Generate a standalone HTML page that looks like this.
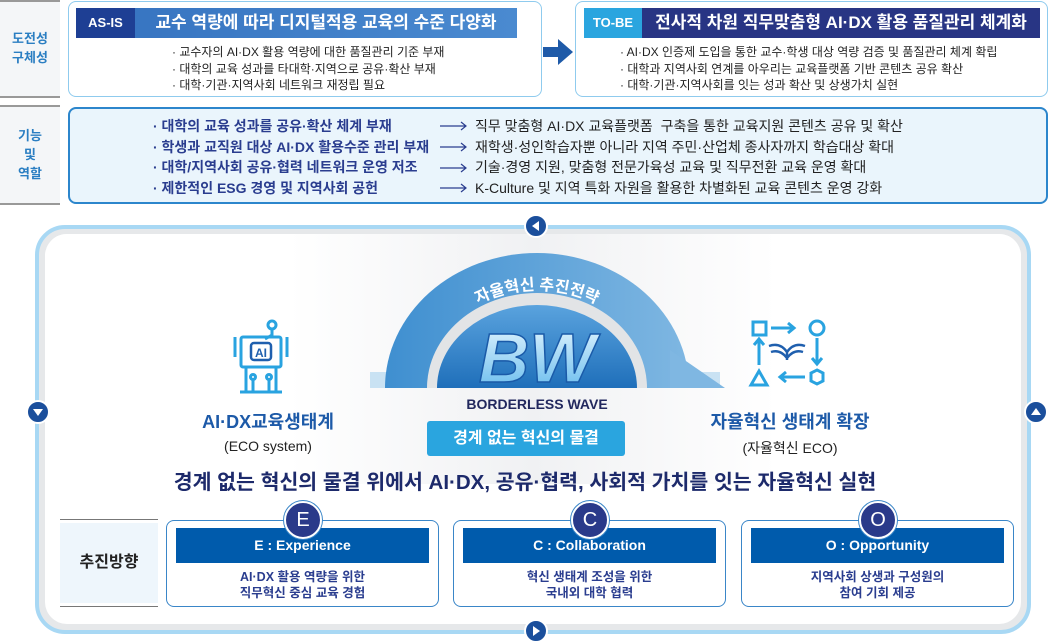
<!DOCTYPE html>
<html><head><meta charset="utf-8"><style>
*{margin:0;padding:0;box-sizing:border-box}
body{width:1050px;height:643px;background:#fff;position:relative;overflow:hidden;font-family:"Liberation Sans","Noto Sans CJK KR",sans-serif}
.a{position:absolute}
.c{text-align:center}
.lbl{color:#2a7ec2;font-weight:bold;font-size:13px;line-height:19px;text-align:center}
.bul{font-size:12px;color:#222;line-height:16.5px;white-space:nowrap}
.r2{font-size:14px;line-height:20.7px;white-space:nowrap}
</style></head><body>
<!-- left label column -->
<div class="a" style="left:0;top:0;width:60px;height:2px;background:#999"></div>
<div class="a" style="left:0;top:96px;width:60px;height:2px;background:#999"></div>
<div class="a" style="left:0;top:105px;width:60px;height:2px;background:#999"></div>
<div class="a" style="left:0;top:203px;width:60px;height:2px;background:#999"></div>
<div class="a" style="left:0;top:2px;width:60px;height:94px;background:#f4f6f8"></div>
<div class="a" style="left:0;top:107px;width:60px;height:96px;background:#f4f6f8"></div>
<div class="a lbl" style="left:0;top:29px;width:60px">도전성<br>구체성</div>
<div class="a lbl" style="left:0;top:126px;width:60px">기능<br>및<br>역할</div>

<!-- AS-IS -->
<div class="a" style="left:68px;top:1px;width:474px;height:96px;border:1.5px solid #8fcbee;border-radius:8px"></div>
<div class="a" style="left:76px;top:8px;width:441px;height:30px;background:linear-gradient(90deg,#3572bf,#4a8ad0)"></div>
<div class="a c" style="left:76px;top:8px;width:59px;height:30px;background:#1e3f94;color:#fff;font-weight:bold;font-size:13px;line-height:30px">AS-IS</div>
<div class="a c" style="left:135px;top:8px;width:382px;color:#fff;font-weight:bold;font-size:17px;line-height:30px">교수 역량에 따라 디지털적용 교육의 수준 다양화</div>
<div class="a bul" style="left:172px;top:44px">· 교수자의 AI·DX 활용 역량에 대한 품질관리 기준 부재<br>· 대학의 교육 성과를 타대학·지역으로 공유·확산 부재<br>· 대학·기관·지역사회 네트워크 재정립 필요</div>

<!-- arrow -->
<svg class="a" style="left:543px;top:38px" width="32" height="28"><rect x="0" y="9" width="16" height="10" fill="#1e5aa8"/><polygon points="15,1 30,14 15,27" fill="#1e5aa8"/></svg>

<!-- TO-BE -->
<div class="a" style="left:575px;top:1px;width:473px;height:96px;border:1.5px solid #8fcbee;border-radius:8px"></div>
<div class="a" style="left:584px;top:8px;width:456px;height:30px;background:#283584"></div>
<div class="a c" style="left:584px;top:8px;width:58px;height:30px;background:#2aa5df;color:#fff;font-weight:bold;font-size:13px;line-height:30px">TO-BE</div>
<div class="a c" style="left:642px;top:8px;width:398px;color:#fff;font-weight:bold;font-size:17px;line-height:30px">전사적 차원 직무맞춤형 AI·DX 활용 품질관리 체계화</div>
<div class="a bul" style="left:620px;top:44px">· AI·DX 인증제 도입을 통한 교수·학생 대상 역량 검증 및 품질관리 체계 확립<br>· 대학과 지역사회 연계를 아우리는 교육플랫폼 기반 콘텐츠 공유 확산<br>· 대학·기관·지역사회를 잇는 성과 확산 및 상생가치 실현</div>

<!-- row 2 -->
<div class="a" style="left:68px;top:107px;width:980px;height:97px;border:2px solid #2c86cc;border-radius:8px;background:#eaf5fc"></div>
<div class="a r2" style="left:153px;top:116px;color:#2a3d8f;font-weight:bold">· 대학의 교육 성과를 공유·확산 체계 부재<br>· 학생과 교직원 대상 AI·DX 활용수준 관리 부재<br>· 대학/지역사회 공유·협력 네트워크 운영 저조<br>· 제한적인 ESG 경영 및 지역사회 공헌</div>
<svg class="a" style="left:438px;top:116px" width="32" height="84">
<g stroke="#2a3d8f" stroke-width="1.2" fill="none">
<path d="M2,10H28M23,6L28,10L23,14"/><path d="M2,31H28M23,27L28,31L23,35"/><path d="M2,52H28M23,48L28,52L23,56"/><path d="M2,72H28M23,68L28,72L23,76"/></g></svg>
<div class="a r2" style="left:475px;top:116px;color:#222">직무 맞춤형 AI·DX 교육플랫폼 &nbsp;구축을 통한 교육지원 콘텐츠 공유 및 확산<br>재학생·성인학습자뿐 아니라 지역 주민·산업체 종사자까지 학습대상 확대<br>기술·경영 지원, 맞춤형 전문가육성 교육 및 직무전환 교육 운영 확대<br>K-Culture 및 지역 특화 자원을 활용한 차별화된 교육 콘텐츠 운영 강화</div>

<!-- big panel -->
<div class="a" style="left:35px;top:225px;width:996px;height:409px;border:4px solid #a8d8f4;border-radius:30px;background:#e6e8ea"></div>
<div class="a" style="left:45px;top:234px;width:976px;height:390px;border-radius:22px;background:#fff"></div>
<div class="a" style="left:45px;top:234px;width:976px;height:250px;border-radius:22px 22px 0 0;background:linear-gradient(90deg,#fff 25%,#f0f1f3 50%,#fff 75%)"></div>

<!-- nav dots -->
<svg class="a" style="left:524px;top:214px" width="24" height="24"><circle cx="12" cy="12" r="11" fill="#1b4f9c" stroke="#fff" stroke-width="2"/><polygon points="15,7 15,17 8,12" fill="#fff"/></svg>
<svg class="a" style="left:26px;top:400px" width="24" height="24"><circle cx="12" cy="12" r="11" fill="#1b4f9c" stroke="#fff" stroke-width="2"/><polygon points="7,9 17,9 12,16" fill="#fff"/></svg>
<svg class="a" style="left:1024px;top:400px" width="24" height="24"><circle cx="12" cy="12" r="11" fill="#1b4f9c" stroke="#fff" stroke-width="2"/><polygon points="7,15 17,15 12,8" fill="#fff"/></svg>
<svg class="a" style="left:524px;top:619px" width="24" height="24"><circle cx="12" cy="12" r="11" fill="#1b4f9c" stroke="#fff" stroke-width="2"/><polygon points="9,7 9,17 16,12" fill="#fff"/></svg>

<!-- arc -->
<svg class="a" style="left:370px;top:240px" width="370" height="160">
<defs>
<linearGradient id="g1" x1="0" x2="1"><stop offset="0" stop-color="#3f8fd0"/><stop offset="1" stop-color="#7fb7e2"/></linearGradient>
<linearGradient id="g2" x1="0" y1="0" x2="0" y2="1"><stop offset="0" stop-color="#5aa3de"/><stop offset="1" stop-color="#1f6fba"/></linearGradient>
<linearGradient id="g3" x1="0" y1="0" x2="0" y2="1"><stop offset="0" stop-color="#e8f7ff"/><stop offset="1" stop-color="#5fb8ec"/></linearGradient>
<path id="tp" d="M52,148 A115,98 0 0 1 282,148" fill="none"/>
</defs>
<rect x="0" y="132" width="350" height="16" fill="#c9e2f3"/>
<path d="M15,148 A152,135 0 0 1 319,148 Z" fill="url(#g1)"/>
<polygon points="300,110 300,148 355,148" fill="#7fb7e2"/>
<path d="M57,148 A110,95 0 0 1 277,148 Z" fill="#e2e4e6"/>
<path d="M67,148 A100,83 0 0 1 267,148 Z" fill="url(#g2)"/>
<text font-family="Liberation Sans,Noto Sans CJK KR,sans-serif" font-size="16" font-weight="bold" fill="#fff"><textPath href="#tp" startOffset="50%" text-anchor="middle">자율혁신 추진전략</textPath></text>
<text x="167" y="142" text-anchor="middle" font-family="Liberation Sans,sans-serif" font-size="70" font-weight="bold" font-style="italic" fill="url(#g3)" stroke="#1a5aa8" stroke-width="1.5">BW</text>
</svg>
<div class="a c" style="left:437px;top:396px;width:200px;color:#22285e;font-weight:bold;font-size:14px">BORDERLESS WAVE</div>
<div class="a c" style="left:427px;top:421px;width:198px;height:35px;background:#2aa5df;border-radius:3px;color:#fff;font-weight:bold;font-size:16px;line-height:35px">경계 없는 혁신의 물결</div>

<!-- AI icon -->
<svg class="a" style="left:225px;top:315px" width="80" height="80" fill="none" stroke="#29a3e0" stroke-width="3">
<circle cx="47" cy="10" r="4"/><path d="M47,14 V20 L40,24"/>
<rect x="16" y="22" width="40" height="30" rx="2"/><path d="M10,22V42M62,22V42"/>
<rect x="26" y="28" width="20" height="17" rx="3" stroke="#1f5fae" stroke-width="2.5"/>
<text x="36" y="42" text-anchor="middle" font-family="Liberation Sans" font-size="12" font-weight="bold" fill="#1f5fae" stroke="none">AI</text>
<path d="M21,52V77M51,52V77M15,77H57"/><circle cx="28" cy="62" r="2.5"/><circle cx="44" cy="62" r="2.5"/><path d="M28,65V77M44,65V77"/>
</svg>
<div class="a c" style="left:168px;top:408px;width:200px;color:#1d5aa8;font-weight:bold;font-size:18px">AI·DX교육생태계</div>
<div class="a c" style="left:168px;top:438px;width:200px;color:#222;font-size:14px">(ECO system)</div>

<!-- right icon -->
<svg class="a" style="left:745px;top:318px" width="90" height="75" fill="none" stroke="#29a3e0" stroke-width="3">
<rect x="8" y="4" width="13" height="13"/><path d="M26,10H48M43,5L49,10L43,15"/><circle cx="72" cy="10" r="7"/>
<path d="M72,20V45M67,40L72,46L77,40"/><polygon points="72,52 78,55 78,63 72,66 66,63 66,55"/>
<path d="M60,59H36M41,54L35,59L41,64"/><polygon points="14,53 22,67 6,67"/>
<path d="M14,47V22M9,27L14,21L19,27"/>
<path d="M24,28 Q35,24 42,34 Q49,24 60,28 M26,34 Q35,31 42,40 Q49,31 58,34 M42,34V42" stroke="#1f5fae" stroke-width="2.5"/>
</svg>
<div class="a c" style="left:680px;top:408px;width:220px;color:#1d5aa8;font-weight:bold;font-size:18px">자율혁신 생태계 확장</div>
<div class="a c" style="left:680px;top:438px;width:220px;color:#222;font-size:14px">(자율혁신 ECO)</div>

<div class="a c" style="left:40px;top:465px;width:970px;color:#1d2a6b;font-weight:bold;font-size:20.5px">경계 없는 혁신의 물결 위에서 AI·DX, 공유·협력, 사회적 가치를 잇는 자율혁신 실현</div>

<!-- bottom -->
<div class="a" style="left:60px;top:519px;width:98px;height:1px;background:#777"></div>
<div class="a" style="left:60px;top:606px;width:98px;height:1px;background:#777"></div>
<div class="a c" style="left:60px;top:523px;width:98px;height:80px;background:#eef6fc;font-weight:bold;font-size:16px;line-height:80px;color:#222">추진방향</div>

<div class="a" style="left:166px;top:520px;width:273px;height:87px;border:1.5px solid #3a86c8;border-radius:8px"></div>
<div class="a c" style="left:176px;top:528px;width:253px;height:35px;background:#005bac;color:#fff;font-weight:bold;font-size:14px;line-height:35px">E : Experience</div>
<div class="a c" style="left:166px;top:569px;width:273px;color:#2a3d8f;font-weight:bold;font-size:12.5px;line-height:16px">AI·DX 활용 역량을 위한<br>직무혁신 중심 교육 경험</div>
<div class="a c" style="left:284px;top:501px;width:38px;height:38px;border-radius:50%;background:#2a3a8a;border:2px solid #fff;box-shadow:0 0 0 1px #3a86c8;color:#fff;font-size:20px;line-height:34px">E</div>

<div class="a" style="left:453px;top:520px;width:273px;height:87px;border:1.5px solid #3a86c8;border-radius:8px"></div>
<div class="a c" style="left:463px;top:528px;width:253px;height:35px;background:#005bac;color:#fff;font-weight:bold;font-size:14px;line-height:35px">C : Collaboration</div>
<div class="a c" style="left:453px;top:569px;width:273px;color:#2a3d8f;font-weight:bold;font-size:12.5px;line-height:16px">혁신 생태계 조성을 위한<br>국내외 대학 협력</div>
<div class="a c" style="left:571px;top:501px;width:38px;height:38px;border-radius:50%;background:#2a3a8a;border:2px solid #fff;box-shadow:0 0 0 1px #3a86c8;color:#fff;font-size:20px;line-height:34px">C</div>

<div class="a" style="left:741px;top:520px;width:273px;height:87px;border:1.5px solid #3a86c8;border-radius:8px"></div>
<div class="a c" style="left:751px;top:528px;width:253px;height:35px;background:#005bac;color:#fff;font-weight:bold;font-size:14px;line-height:35px">O : Opportunity</div>
<div class="a c" style="left:741px;top:569px;width:273px;color:#2a3d8f;font-weight:bold;font-size:12.5px;line-height:16px">지역사회 상생과 구성원의<br>참여 기회 제공</div>
<div class="a c" style="left:859px;top:501px;width:38px;height:38px;border-radius:50%;background:#2a3a8a;border:2px solid #fff;box-shadow:0 0 0 1px #3a86c8;color:#fff;font-size:20px;line-height:34px">O</div>
</body></html>
